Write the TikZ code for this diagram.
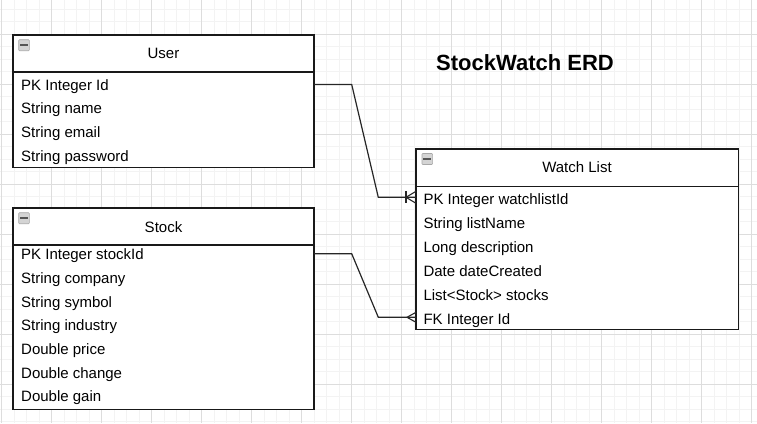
\documentclass[tikz,border=0pt]{standalone}
\usepackage{fontspec}
\setmainfont{Liberation Sans}
\usetikzlibrary{calc}
\definecolor{gridminor}{HTML}{F3F3F3}
\definecolor{gridmajor}{HTML}{DDDDDD}
\definecolor{iconfill}{HTML}{D4D4D4}
\definecolor{iconedge}{HTML}{A8A8A8}
\definecolor{iconbar}{HTML}{555555}
\tikzset{
  entbox/.style={draw=black!90, line width=1.3pt, fill=white},
  rowtext/.style={anchor=west, inner sep=0pt, font=\fontsize{15}{17}\selectfont, text height=10.7pt, text depth=0pt},
  headtext/.style={anchor=center, inner sep=0pt, font=\fontsize{15}{17}\selectfont, text height=10.7pt, text depth=0pt},
  conn/.style={draw=black!85, line width=1.2pt},
  crow/.style={draw=black!85, line width=1.1pt},
}
\newcommand{\collapseicon}[2]{%
  \draw[fill=iconfill, draw=iconedge, line width=0.6pt, rounded corners=0.8pt] (#1,#2) rectangle ++(10.6,11);
  \draw[iconbar, line width=2pt] ($(#1,#2)+(1.4,5.5)$) -- ++(7.8,0);
}
\begin{document}
\begin{tikzpicture}[x=1pt,y=-1pt]
\useasboundingbox (0,0) rectangle (757,423);
% grid
\begin{scope}
\clip (0,0) rectangle (757,423);
\foreach \i in {0,...,61} {\draw[gridminor, line width=0.8pt] (1.7+12.5*\i,0) -- (1.7+12.5*\i,423);}
\foreach \i in {-3,...,34} {\draw[gridminor, line width=0.8pt] (0,34.3+12.5*\i) -- (757,34.3+12.5*\i);}
\foreach \i in {0,...,15} {\draw[gridmajor, line width=0.8pt] (1.7+50*\i,0) -- (1.7+50*\i,423);}
\foreach \i in {-1,...,8} {\draw[gridmajor, line width=0.8pt] (0,34.3+50*\i) -- (757,34.3+50*\i);}
\end{scope}

% title
\node[anchor=center, inner sep=0pt, font=\fontsize{22}{26}\selectfont\bfseries] (title) at (525,63) {StockWatch ERD};

% User entity
\draw[entbox] (13,35) rectangle (314,167.5);
\draw[black!90, line width=1.3pt] (13,72) -- (314,72);
\coordinate (userPK) at (314,84.5);
\collapseicon{18.7}{39.7}
\node[headtext] (userH) at (163.5,53.5) {User};
\node[rowtext] (u1) at (21,85) {PK Integer Id};
\node[rowtext] (u2) at (21,108.6) {String name};
\node[rowtext] (u3) at (21,132.3) {String email};
\node[rowtext] (u4) at (21,156) {String password};

% Stock entity
\draw[entbox] (13,208) rectangle (314,409.3);
\draw[black!90, line width=1.3pt] (13,245) -- (314,245);
\coordinate (stockPK) at (314,253.7);
\collapseicon{18.7}{212.7}
\node[headtext] (stockH) at (163.5,227) {Stock};
\node[rowtext] (s1) at (21,254.3) {PK Integer stockId};
\node[rowtext] (s2) at (21,278) {String company};
\node[rowtext] (s3) at (21,301.7) {String symbol};
\node[rowtext] (s4) at (21,325.4) {String industry};
\node[rowtext] (s5) at (21,349.1) {Double price};
\node[rowtext] (s6) at (21,372.8) {Double change};
\node[rowtext] (s7) at (21,396.5) {Double gain};

% Watch List entity
\draw[entbox] (416,149) rectangle (738.3,329.7);
\draw[black!90, line width=1.3pt] (416,186.3) -- (738.3,186.3);
\coordinate (wlPK) at (416,197.3);
\coordinate (wlFK) at (416,317.3);
\collapseicon{422}{153.5}
\node[headtext] (wlH) at (577,167) {Watch List};
\node[rowtext] (w1) at (423.3,199.3) {PK Integer watchlistId};
\node[rowtext] (w2) at (423.3,223.2) {String listName};
\node[rowtext] (w3) at (423.3,247.1) {Long description};
\node[rowtext] (w4) at (423.3,271) {Date dateCreated};
\node[rowtext] (w5) at (423.3,294.9) {List<Stock> stocks};
\node[rowtext] (w6) at (423.3,318.8) {FK Integer Id};

% connectors
\coordinate (c1a) at (351.7,84.5);
\coordinate (c1b) at (378.3,197.3);
\draw[conn] (userPK) -- (c1a) -- (c1b) -- (wlPK);
\draw[crow] ($(wlPK)+(0,-6)$) -- ($(wlPK)+(-10,0)$) -- ($(wlPK)+(0,6)$);
\draw[crow] ($(wlPK)+(-10,-6)$) -- ($(wlPK)+(-10,6)$);

\coordinate (c2a) at (351.7,253.7);
\coordinate (c2b) at (378.3,317.3);
\draw[conn] (stockPK) -- (c2a) -- (c2b) -- (wlFK);
\draw[crow] ($(wlFK)+(0,-5)$) -- ($(wlFK)+(-9,0)$) -- ($(wlFK)+(0,5)$);
\end{tikzpicture}
\end{document}
